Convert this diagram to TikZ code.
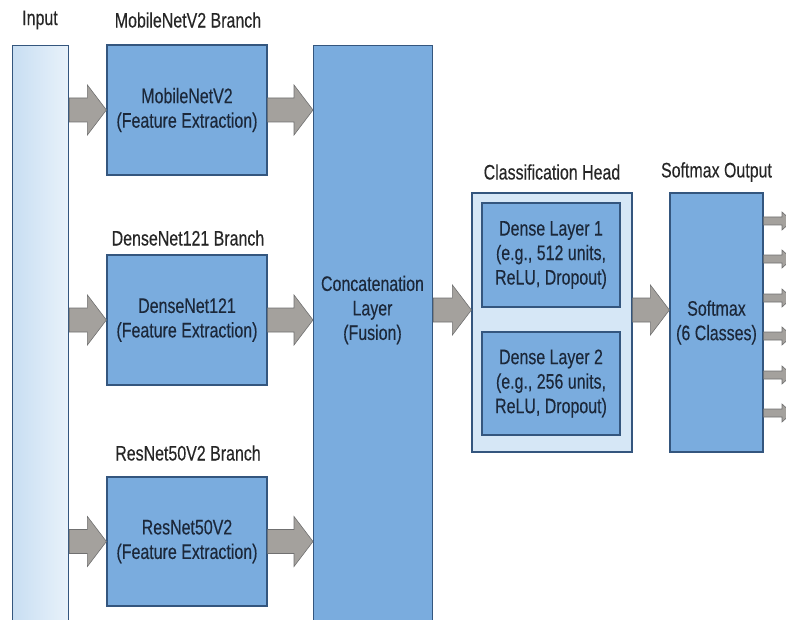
\documentclass[tikz,border=0pt]{standalone}
\usepackage{fontspec}
\setmainfont{Liberation Sans}[FakeStretch=0.76,FakeBold=0.3]
\usetikzlibrary{calc}
\definecolor{boxblue}{RGB}{122,172,222}
\definecolor{boxline}{RGB}{52,86,126}
\definecolor{paleblue}{RGB}{214,231,246}
\definecolor{arrowgray}{RGB}{164,161,157}
\definecolor{arrowline}{RGB}{112,112,112}
\definecolor{textnavy}{RGB}{28,40,58}
\tikzset{
	block/.style={draw=boxline, line width=1.2pt, fill=boxblue, align=center, text=textnavy, inner sep=0pt},
	pale/.style={draw=boxline, line width=1.2pt, fill=paleblue, inner sep=0pt},
	title/.style={text=black!85, inner sep=0pt},
	blockarrow/.style n args={3}{draw=arrowline, fill=arrowgray, line width=0.6pt,
		to path={let \p1=(\tikztostart), \p2=(\tikztotarget) in
			(\x1,\y2+#1) -- (\x2-#3,\y2+#1) -- (\x2-#3,\y2+#2) -- (\x2,\y2)
			-- (\x2-#3,\y2-#2) -- (\x2-#3,\y2-#1) -- (\x1,\y2-#1) -- cycle}},
	bigarrow/.style={blockarrow={12pt}{25pt}{19pt}},
	smallarrow/.style={blockarrow={4pt}{9pt}{10pt}},
}

\begin{document}
\begin{tikzpicture}[x=1pt,y=-1pt,font=\fontsize{21}{24.5}\selectfont]
\useasboundingbox (0,0) rectangle (786,620);
% input
\node[title] at (40,20) {Input};
\node[pale, left color=paleblue!85!boxblue, right color=paleblue!55!white, minimum width=56, minimum height=600, anchor=north west] (input) at (12,45) {};
% branches
\node[title] at (188,20) {MobileNetV2 Branch};
\node[block, minimum width=160, minimum height=130] (mobile) at (187,110) {MobileNetV2\\(Feature Extraction)};
\node[title] at (188,238) {DenseNet121 Branch};
\node[block, minimum width=160, minimum height=130] (dense) at (187,320) {DenseNet121\\(Feature Extraction)};
\node[title] at (188,453) {ResNet50V2 Branch};
\node[block, minimum width=160, minimum height=129] (resnet) at (187,541.5) {ResNet50V2\\(Feature Extraction)};
% fusion
\node[block, minimum width=119, minimum height=600, anchor=north west] (concat) at (313,45) {};
\node[align=center, text=textnavy, inner sep=0pt] (fusiontext) at (372.5,310) {Concatenation\\Layer\\(Fusion)};
% head
\node[title] at (552,172) {Classification Head};
\node[pale, minimum width=160, minimum height=259] (head) at (552,322.5) {};
\node[block, minimum width=138, minimum height=104] (dense1) at (551,255) {Dense Layer 1\\(e.g., 512 units,\\ReLU, Dropout)};
\node[block, minimum width=138, minimum height=103] (dense2) at (551,383.5) {Dense Layer 2\\(e.g., 256 units,\\ReLU, Dropout)};
% output
\node[title] at (716.5,172) {Softmax Output};
\node[block, minimum width=93, minimum height=259] (softmax) at (716.5,322.5) {Softmax\\(6 Classes)};
% arrows
\draw[bigarrow] (input.east |- mobile) to (mobile.west);
\draw[bigarrow] (input.east |- dense) to (dense.west);
\draw[bigarrow] (input.east |- resnet) to (resnet.west);
\draw[bigarrow] (mobile.east) to (mobile.east -| concat.west);
\draw[bigarrow] (dense.east) to (dense.east -| concat.west);
\draw[bigarrow] (resnet.east) to (resnet.east -| concat.west);
\draw[bigarrow] (concat.east |- fusiontext) to (head.west |- fusiontext);
\draw[bigarrow] (head.east |- fusiontext) to (softmax.west |- fusiontext);
\foreach \k/\yy in {1/221,2/259,3/298,4/336,5/375,6/413}{
	\coordinate (out\k) at (792,\yy);
	\draw[smallarrow] (softmax.east |- out\k) to (out\k);
}
\end{tikzpicture}
\end{document}
